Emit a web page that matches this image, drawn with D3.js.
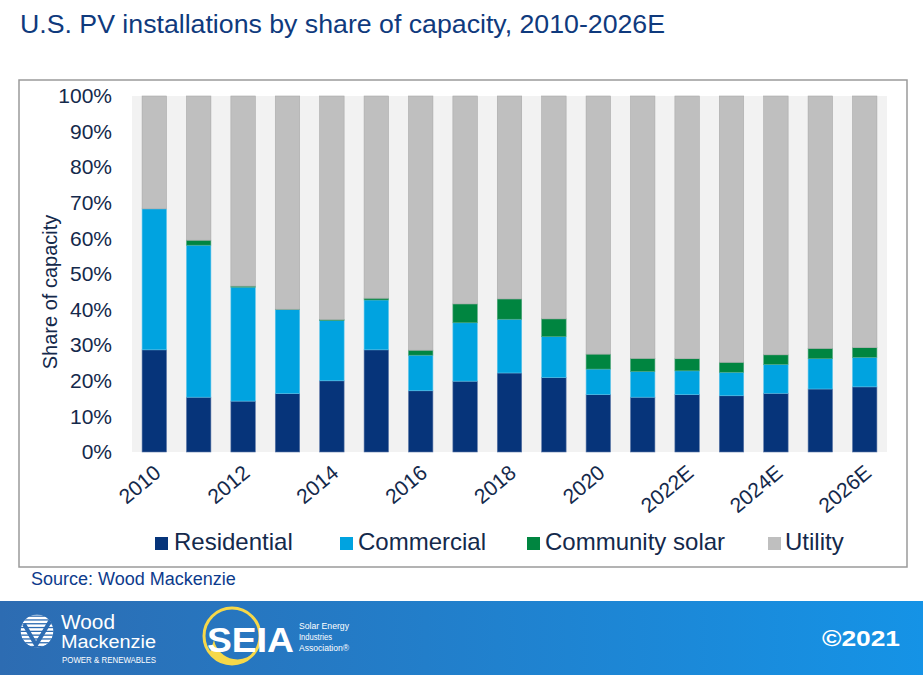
<!DOCTYPE html>
<html>
<head>
<meta charset="utf-8">
<script src="https://cdn.jsdelivr.net/npm/d3@7"></script>
<style>
  html, body { margin: 0; padding: 0; background: #fff; }
  svg { display: block; font-family: "Liberation Sans", Arial, sans-serif; }
</style>
</head>
<body>
<svg id="chart" width="923" height="675"></svg>
<script>
const categories = ["2010","2011","2012","2013","2014","2015","2016","2017","2018","2019","2020","2021E","2022E","2023E","2024E","2025E","2026E"];
const tickLabels = ["2010","2012","2014","2016","2018","2020","2022E","2024E","2026E"];
const residential = [28.7,15.4,14.3,16.4,20.0,28.7,17.2,19.9,22.2,20.9,16.1,15.4,16.1,15.8,16.5,17.7,18.3];
const commercial  = [39.6,42.7,32.0,23.6,16.9,14.0,10.0,16.4,15.1,11.5,7.2,7.2,6.7,6.6,8.1,8.5,8.3];
const community   = [0.0,1.4,0.3,0.1,0.3,0.5,1.4,5.3,5.7,5.0,4.2,3.7,3.4,2.8,2.7,2.9,2.7];
const utility     = [31.7,40.5,53.4,59.9,62.8,56.8,71.4,58.4,57.0,62.6,72.5,73.7,73.8,74.8,72.7,70.9,70.7];
const seriesNames = ["Residential","Commercial","Community solar","Utility"];
const yTicks = [0,10,20,30,40,50,60,70,80,90,100];

const colors = {"Residential":"#06347a","Commercial":"#00a3e0","Community solar":"#008540","Utility":"#bfbfbf"};
const strokes = {"Residential":"#5a76a6","Commercial":"#5cc3ea","Community solar":"#4ea57a","Utility":"#a9a9a9"};

const svg = d3.select("#chart");

// Title
svg.append("text").attr("x", 20).attr("y", 33)
  .attr("font-size", 26.5).attr("fill", "#0f3a7d")
  .attr("textLength", 645).attr("lengthAdjust", "spacingAndGlyphs")
  .text("U.S. PV installations by share of capacity, 2010-2026E");

// Outer frame
svg.append("rect").attr("x", 19).attr("y", 80).attr("width", 888).attr("height", 487)
  .attr("fill", "none").attr("stroke", "#9a9a9a").attr("stroke-width", 1.5);

const plot = {left: 132, right: 887, top: 96, bottom: 452};
svg.append("rect").attr("x", plot.left).attr("y", plot.top)
  .attr("width", plot.right - plot.left).attr("height", plot.bottom - plot.top)
  .attr("fill", "#f2f2f2");

const x = d3.scaleBand().domain(categories).range([plot.left, plot.right])
  .paddingInner(0.45).paddingOuter(0.227);
const y = d3.scaleLinear().domain([0, 100]).range([plot.bottom, plot.top]);

const table = categories.map((c, i) => ({
  cat: c,
  "Residential": residential[i],
  "Commercial": commercial[i],
  "Community solar": community[i],
  "Utility": utility[i]
}));
const stacked = d3.stack().keys(seriesNames)(table);

svg.append("g").selectAll("g").data(stacked).join("g")
  .attr("fill", d => colors[d.key])
  .attr("stroke", d => strokes[d.key])
  .attr("stroke-width", 0.6)
  .selectAll("rect").data(d => d).join("rect")
  .attr("x", d => x(d.data.cat))
  .attr("width", x.bandwidth())
  .attr("y", d => y(d[1]))
  .attr("height", d => Math.max(0, y(d[0]) - y(d[1])));

// Y axis
const yAxis = d3.axisLeft(y).tickValues(yTicks).tickFormat(d => d + "%").tickSize(0).tickPadding(20);
const yg = svg.append("g").attr("transform", `translate(${plot.left},0)`).call(yAxis);
yg.select(".domain").remove();
yg.selectAll("text").attr("font-size", 21).attr("fill", "#14294b")
  .attr("font-family", "'Liberation Sans', Arial, sans-serif");

// X axis
const xAxis = d3.axisBottom(x).tickValues(tickLabels).tickSize(0).tickPadding(0);
const xg = svg.append("g").attr("transform", `translate(0,${plot.bottom})`).call(xAxis);
xg.select(".domain").remove();
xg.selectAll("text")
  .attr("font-size", 21).attr("fill", "#14294b")
  .attr("font-family", "'Liberation Sans', Arial, sans-serif")
  .attr("text-anchor", "end")
  .attr("dy", "0")
  .attr("transform", "translate(8,23) rotate(-40)");

// Y axis title
svg.append("text")
  .attr("transform", "translate(57,292) rotate(-90)")
  .attr("text-anchor", "middle")
  .attr("font-size", 20).attr("fill", "#14294b")
  .text("Share of capacity");

// Legend
const legendPos = [
  {sx: 155, tx: 174},
  {sx: 340, tx: 358},
  {sx: 527, tx: 545},
  {sx: 768, tx: 785}
];
const lg = svg.append("g");
seriesNames.forEach((name, i) => {
  lg.append("rect").attr("x", legendPos[i].sx).attr("y", 537)
    .attr("width", 13).attr("height", 13).attr("fill", colors[name]);
  lg.append("text").attr("x", legendPos[i].tx).attr("y", 550)
    .attr("font-size", 24).attr("fill", "#14294b").text(name);
});

// Source
svg.append("text").attr("x", 31).attr("y", 585)
  .attr("font-size", 18).attr("fill", "#0d3b8c")
  .text("Source: Wood Mackenzie");

// Footer band
const defs = svg.append("defs");
const grad = defs.append("linearGradient").attr("id", "footgrad")
  .attr("x1", "0%").attr("x2", "100%").attr("y1", "0%").attr("y2", "0%");
grad.append("stop").attr("offset", "0%").attr("stop-color", "#2d6cb2");
grad.append("stop").attr("offset", "100%").attr("stop-color", "#1593e6");
svg.append("rect").attr("x", 0).attr("y", 601).attr("width", 923).attr("height", 74)
  .attr("fill", "url(#footgrad)");

// Wood Mackenzie logo
const wm = svg.append("g");
defs.append("clipPath").attr("id", "wmclip").append("circle").attr("cx", 37).attr("cy", 631).attr("r", 16.5);
const wmInner = wm.append("g").attr("clip-path", "url(#wmclip)");
wmInner.append("circle").attr("cx", 37).attr("cy", 631).attr("r", 16.5).attr("fill", "#fff");
d3.range(0, 9).forEach(k => {
  wmInner.append("rect").attr("x", 18).attr("y", 615.5 + k * 3.8).attr("width", 40).attr("height", 1.3).attr("fill", "#2d6cb2");
});
wmInner.append("path").attr("d", "M24,624 L36,645 L52,618").attr("fill", "none")
  .attr("stroke", "#2d6cb2").attr("stroke-width", 4);
wm.append("text").attr("x", 61).attr("y", 629).attr("font-size", 21).attr("fill", "#fff")
  .attr("textLength", 54).attr("lengthAdjust", "spacingAndGlyphs").text("Wood");
wm.append("text").attr("x", 61).attr("y", 648).attr("font-size", 18).attr("fill", "#fff")
  .attr("textLength", 95).attr("lengthAdjust", "spacingAndGlyphs").text("Mackenzie");
wm.append("text").attr("x", 62).attr("y", 663).attr("font-size", 8.5).attr("fill", "#fff")
  .attr("textLength", 94).attr("lengthAdjust", "spacingAndGlyphs").text("POWER & RENEWABLES");

// SEIA logo
const se = svg.append("g");
se.append("circle").attr("cx", 232).attr("cy", 636).attr("r", 28).attr("fill", "none")
  .attr("stroke", "#f6d849").attr("stroke-width", 3);
se.append("path").attr("d", "M210,652 A28,28 0 0 0 258,648 A24,24 0 0 1 214,640 Z").attr("fill", "#f6d849");
se.append("text").attr("x", 207).attr("y", 652).attr("font-size", 35).attr("font-weight", "bold")
  .attr("fill", "#fff").attr("textLength", 87).attr("lengthAdjust", "spacingAndGlyphs").text("SEIA");
[["Solar Energy", 629], ["Industries", 640], ["Association®", 651]].forEach(([t, yy]) => {
  se.append("text").attr("x", 299).attr("y", yy).attr("font-size", 9).attr("fill", "#fff")
    .attr("textLength", t === "Industries" ? 33 : 50).attr("lengthAdjust", "spacingAndGlyphs").text(t);
});

// Copyright
svg.append("text").attr("x", 822).attr("y", 646).attr("font-size", 22).attr("font-weight", "bold")
  .attr("fill", "#fff").attr("textLength", 78).attr("lengthAdjust", "spacingAndGlyphs").text("©2021");
</script>
</body>
</html>
